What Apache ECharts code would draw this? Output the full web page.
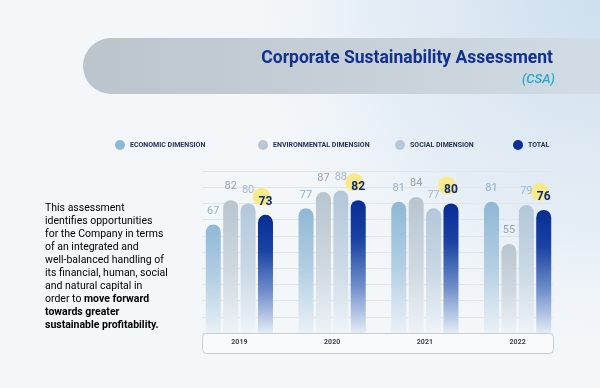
<!DOCTYPE html>
<html>
<head>
<meta charset="utf-8">
<script src="https://cdn.jsdelivr.net/npm/echarts@6/dist/echarts.min.js"></script>
<style>html,body{margin:0;padding:0;background:#f4f7fa;}#c{width:600px;height:388px;}</style>
</head>
<body>
<div id="c"></div>
<script>
const years = ['2019', '2020', '2021', '2022'];
const economic = [67, 77, 81, 81];
const environmental = [82, 87, 84, 55];
const social = [80, 88, 77, 79];
const total = [73, 82, 80, 76];
const seriesNames = ['ECONOMIC DIMENSION', 'ENVIRONMENTAL DIMENSION', 'SOCIAL DIMENSION', 'TOTAL'];
const yTicks = {min: 0, max: 100, interval: 10};

const FONT = 'Roboto, "Noto Sans", sans-serif';
const BW = 15, GAP = 2.4;

function grad(top, mid, bottom) {
  return new echarts.graphic.LinearGradient(0, 0, 0, 1, [
    {offset: 0, color: top}, {offset: 0.5, color: mid}, {offset: 1, color: bottom}
  ]);
}
const colors = ['#90b9d5', '#b9c6d0', '#b4c8da', '#0a2e95'];
const fills = [
  grad('#8fb8d5', '#b3cfe3', '#eaf1f7'),
  grad('#b8c5cf', '#cdd7df', '#eef2f6'),
  grad('#b3c7d9', '#c9d8e5', '#eef3f8'),
  new echarts.graphic.LinearGradient(0, 0, 0, 1, [
    {offset: 0, color: '#072c95'}, {offset: 0.3, color: '#1a43a3'},
    {offset: 0.65, color: '#6f8fca'}, {offset: 1, color: '#e4ecf6'}])
];
const labelColors = ['#8db2cf', '#97a3ad', '#a2bad0', '#0f2a6e'];
const legendLeft = [110, 253, 390, 508];

function barSeries(i, data) {
  const isTotal = i === 3;
  return {
    name: seriesNames[i], type: 'bar', data: data,
    xAxisIndex: 0, yAxisIndex: 0,
    barWidth: BW, barGap: (GAP / BW * 100) + '%', z: 3,
    itemStyle: {color: fills[i], borderRadius: [BW / 2, BW / 2, 0, 0]},
    label: {
      show: true, position: 'top', distance: isTotal ? 7 : 8,
      fontFamily: FONT, fontSize: isTotal ? 12 : 11,
      fontWeight: isTotal ? 'bold' : 'normal',
      color: labelColors[i]
    }
  };
}

const chart = echarts.init(document.getElementById('c'), null, {renderer: 'canvas'});
const paragraph = '{n|This assessment}\n{n|identifies opportunities}\n{n|for the Company in terms}\n{n|of an integrated and}\n{n|well-balanced handling of}\n{n|its financial, human, social}\n{n|and natural capital in}\n{n|order to }{b|move forward}\n{b|towards greater}\n{b|sustainable profitability.}';

chart.setOption({
  animation: false,
  backgroundColor: 'transparent',
  graphic: [
    {type: 'rect', z: -20, silent: true, shape: {x: 0, y: 0, width: 600, height: 388},
      style: {fill: '#f4f7fa'}},
    {type: 'rect', z: -19, silent: true, shape: {x: 0, y: 0, width: 600, height: 388},
      style: {fill: new echarts.graphic.RadialGradient(1, 0, 1.0, [
        {offset: 0, color: 'rgba(205,222,238,1)'},
        {offset: 0.6, color: 'rgba(220,232,243,0.6)'},
        {offset: 1, color: 'rgba(244,247,250,0)'}])}},
    {type: 'rect', z: -18, silent: true, shape: {x: 83, y: 38, width: 560, height: 56, r: [28, 0, 0, 28]},
      style: {fill: new echarts.graphic.LinearGradient(0, 0, 1, 0, [
        {offset: 0, color: '#bcc4cc'}, {offset: 0.6, color: '#c9d3dc'}, {offset: 1, color: '#d3dee8'}])}},
    {type: 'text', z: 5, style: {x: 553, y: 59, text: 'Corporate Sustainability Assessment',
      textAlign: 'right', textVerticalAlign: 'middle', font: 'bold 17.5px ' + FONT, fill: '#11308f'}},
    {type: 'text', z: 5, style: {x: 555, y: 80, text: '(CSA)', textAlign: 'right', textVerticalAlign: 'middle',
      font: 'italic 500 13px ' + FONT, fill: '#2aa8c9'}},
    {type: 'text', z: 5, style: {x: 45, y: 202, text: paragraph,
      rich: {
        n: {fontFamily: FONT, fontSize: 10.5, lineHeight: 13, color: '#1d2b4a'},
        b: {fontFamily: FONT, fontSize: 10.5, lineHeight: 13, color: '#1d2b4a', fontWeight: 'bold'}
      }}},
    {type: 'rect', z: 4, silent: true, shape: {x: 202.5, y: 333.5, width: 351, height: 20, r: 4},
      style: {fill: '#f8fafc', stroke: '#c6ced6', lineWidth: 1}}
  ],
  legend: seriesNames.map((n, i) => ({
    left: legendLeft[i], top: 135, icon: 'circle', itemWidth: 10, itemHeight: 10,
    data: [{name: n, itemStyle: {color: colors[i]}}],
    textStyle: {fontFamily: FONT, fontSize: 7, fontWeight: 'bold', color: '#24345a'},
    selectedMode: false
  })),
  grid: [
    {left: 193, right: 36, top: 171, bottom: 55},
    {left: 202, right: 47, top: 171, bottom: 55}
  ],
  xAxis: [
    {type: 'category', data: years, gridIndex: 0, z: 10,
      axisLine: {show: false}, axisTick: {show: false},
      axisLabel: {margin: 6, fontFamily: FONT, fontSize: 7, fontWeight: 'bold', color: '#3b4450'}},
    {type: 'value', gridIndex: 1, show: false, min: 0, max: 1}
  ],
  yAxis: [
    {type: 'value', gridIndex: 0, min: yTicks.min, max: yTicks.max, interval: yTicks.interval, show: false},
    {type: 'value', gridIndex: 1, min: yTicks.min, max: yTicks.max, interval: yTicks.interval,
      axisLine: {show: false}, axisTick: {show: false}, axisLabel: {show: false},
      splitLine: {lineStyle: {color: '#dfe5eb', width: 1}}}
  ],
  series: [
    barSeries(0, economic),
    barSeries(1, environmental),
    barSeries(2, social),
    barSeries(3, total),
    {
      type: 'custom', xAxisIndex: 0, yAxisIndex: 0, z: 2, silent: true,
      data: total.map((v, i) => [i, v]),
      renderItem: function (params, api) {
        const p = api.coord([api.value(0), api.value(1)]);
        const off = 1.5 * (BW + GAP);
        return {type: 'circle', shape: {cx: p[0] + off - 4, cy: p[1] - 18, r: 9},
          style: {fill: '#f8ea8a'}};
      }
    }
  ]
});
</script>
</body>
</html>
